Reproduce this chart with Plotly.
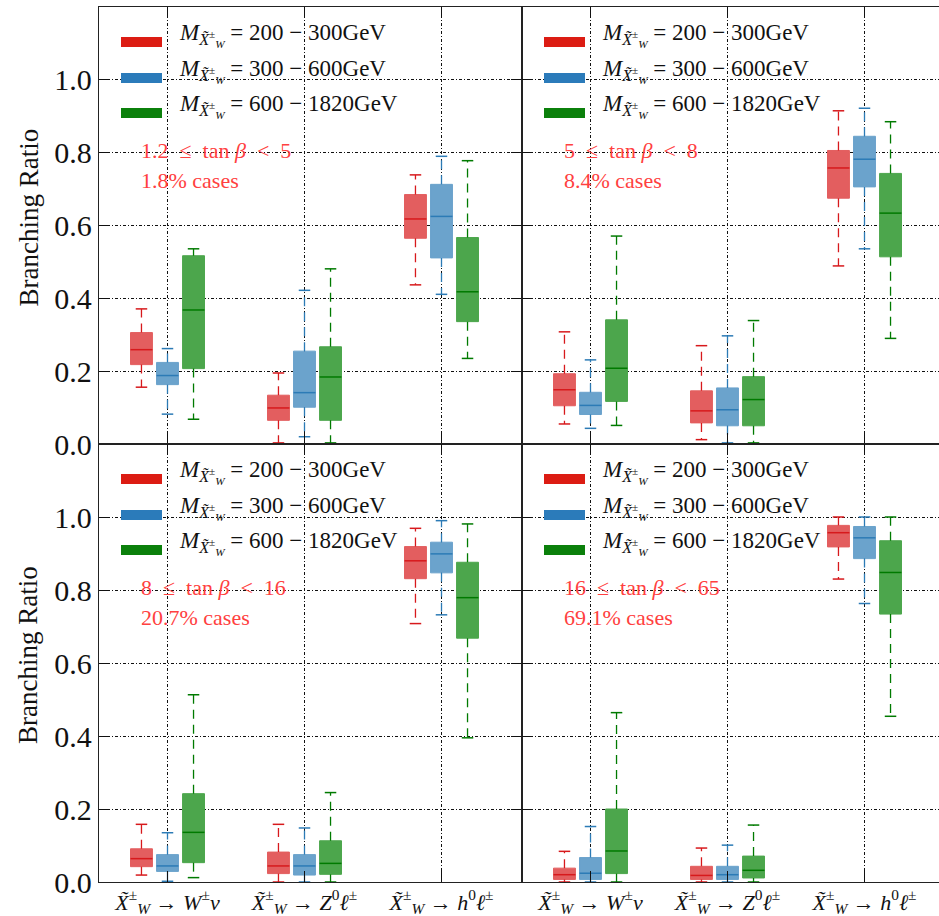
import plotly.graph_objects as go

# ---------------- data ----------------
cat_pos = [1, 2, 3]
cat_labels = [
    "<i>X̃</i><sup>±</sup><sub><i>W</i></sub> → <i>W</i><sup>±</sup><i>ν</i>",
    "<i>X̃</i><sup>±</sup><sub><i>W</i></sub> → <i>Z</i><sup>0</sup><i>ℓ</i><sup>±</sup>",
    "<i>X̃</i><sup>±</sup><sub><i>W</i></sub> → <i>h</i><sup>0</sup><i>ℓ</i><sup>±</sup>",
]
mass_bins = ["200 − 300GeV", "300 − 600GeV", "600 − 1820GeV"]
tanb_ranges = ["1.2 \u00a0≤\u00a0 tan <i>β</i> \u00a0<\u00a0 5", "5 \u00a0≤\u00a0 tan <i>β</i> \u00a0<\u00a0 8",
               "8 \u00a0≤\u00a0 tan <i>β</i> \u00a0<\u00a0 16", "16 \u00a0≤\u00a0 tan <i>β</i> \u00a0<\u00a0 65"]
case_frac = ["1.8% cases", "8.4% cases", "20.7% cases", "69.1% cases"]
y_ticks = [0.0, 0.2, 0.4, 0.6, 0.8, 1.0]
y_tick_text = ["0.0", "0.2", "0.4", "0.6", "0.8", "1.0"]

# per category: [whisker low, q1, median, q3, whisker high]
p1_red = [[0.156, 0.218, 0.259, 0.306, 0.371], [0.003, 0.065, 0.099, 0.134, 0.195], [0.437, 0.565, 0.618, 0.685, 0.739]]
p1_blue = [[0.082, 0.163, 0.188, 0.224, 0.262], [0.020, 0.101, 0.141, 0.255, 0.422], [0.411, 0.511, 0.625, 0.713, 0.790]]
p1_green = [[0.068, 0.207, 0.368, 0.517, 0.536], [0.003, 0.065, 0.184, 0.267, 0.481], [0.235, 0.336, 0.418, 0.567, 0.778]]

p2_red = [[0.055, 0.105, 0.149, 0.193, 0.308], [0.012, 0.058, 0.091, 0.146, 0.270], [0.489, 0.675, 0.758, 0.806, 0.915]]
p2_blue = [[0.043, 0.081, 0.106, 0.142, 0.231], [0.003, 0.050, 0.094, 0.154, 0.297], [0.536, 0.706, 0.782, 0.845, 0.922]]
p2_green = [[0.051, 0.117, 0.208, 0.341, 0.571], [0.003, 0.050, 0.122, 0.185, 0.339], [0.290, 0.514, 0.634, 0.743, 0.885]]

p3_red = [[0.019, 0.042, 0.064, 0.091, 0.158], [0.000, 0.023, 0.044, 0.082, 0.158], [0.708, 0.831, 0.880, 0.919, 0.969]]
p3_blue = [[0.002, 0.029, 0.044, 0.075, 0.135], [0.000, 0.019, 0.044, 0.075, 0.148], [0.732, 0.847, 0.899, 0.931, 0.990]]
p3_green = [[0.012, 0.053, 0.136, 0.242, 0.513], [0.000, 0.021, 0.051, 0.113, 0.245], [0.395, 0.668, 0.779, 0.876, 0.981]]

p4_red = [[0.000, 0.007, 0.020, 0.038, 0.084], [0.000, 0.007, 0.018, 0.043, 0.093], [0.830, 0.918, 0.957, 0.977, 1.000]]
p4_blue = [[0.000, 0.007, 0.024, 0.067, 0.152], [0.000, 0.007, 0.020, 0.043, 0.101], [0.763, 0.886, 0.943, 0.974, 1.000]]
p4_green = [[0.000, 0.023, 0.085, 0.200, 0.464], [0.000, 0.011, 0.032, 0.071, 0.156], [0.454, 0.734, 0.848, 0.935, 1.000]]

panels = [
    [p1_red, p1_blue, p1_green],
    [p2_red, p2_blue, p2_green],
    [p3_red, p3_blue, p3_green],
    [p4_red, p4_blue, p4_green],
]

# ---------------- style ----------------
W, H = 939, 916
SERIF = "Liberation Serif, Times New Roman, serif"
legend_colors = ["#dc1c13", "#2b7bba", "#0b800b"]
fill_colors = ["#e35e5f", "#6ba3cc", "#4ca64c"]
line_colors = ["#d7191c", "#2c7bb6", "#007a00"]
offsets = [-0.19, 0.0, 0.19]
half_box = 0.08
half_cap = 0.042
grid_dash = "3px,2px,1px,2px"

# panel pixel boxes: (left, right, top, bottom)
panel_px = [(99, 522, 7, 444), (522, 939, 7, 444), (99, 522, 444, 882), (522, 939, 444, 882)]
px_per_unit = 137.0

fig = go.Figure()

for pi, series in enumerate(panels):
    xr = "x" if pi == 0 else f"x{pi + 1}"
    yr = "y" if pi == 0 else f"y{pi + 1}"
    for si, data in enumerate(series):
        bx, by, mx, my, wx, wy, cx, cy = [], [], [], [], [], [], [], []
        for ci, (lo, q1, med, q3, hi) in enumerate(data):
            xc = cat_pos[ci] + offsets[si]
            bx += [xc - half_box, xc + half_box, xc + half_box, xc - half_box, xc - half_box, None]
            by += [q1, q1, q3, q3, q1, None]
            mx += [xc - half_box, xc + half_box, None]
            my += [med, med, None]
            wx += [xc, xc, None, xc, xc, None]
            wy += [q3, hi, None, q1, lo, None]
            cx += [xc - half_cap, xc + half_cap, None, xc - half_cap, xc + half_cap, None]
            cy += [hi, hi, None, lo, lo, None]
        common = dict(xaxis=xr, yaxis=yr, mode="lines", showlegend=False, hoverinfo="skip")
        fig.add_trace(go.Scatter(x=bx, y=by, fill="toself", fillcolor=fill_colors[si],
                                 line=dict(color=fill_colors[si], width=1), **common))
        fig.add_trace(go.Scatter(x=mx, y=my, line=dict(color=line_colors[si], width=1.5), **common))
        fig.add_trace(go.Scatter(x=wx, y=wy, line=dict(color=line_colors[si], width=1.3, dash="9px,6px"), **common))
        fig.add_trace(go.Scatter(x=cx, y=cy, line=dict(color=line_colors[si], width=1.5), **common))

layout = dict(
    width=W, height=H,
    margin=dict(l=0, r=0, t=0, b=0),
    paper_bgcolor="white", plot_bgcolor="white",
    showlegend=False,
)

shapes = []
annotations = []
for pi, (L, R, T, B) in enumerate(panel_px):
    sfx = "" if pi == 0 else str(pi + 1)
    is_left = pi in (0, 2)
    is_bottom = pi in (2, 3)
    width_units = (R - L) / px_per_unit
    layout["xaxis" + sfx] = dict(
        domain=[L / W, R / W], range=[0.5, 0.5 + width_units], anchor="y" + sfx,
        tickmode="array", tickvals=cat_pos, ticktext=cat_labels, automargin=False,
        showticklabels=is_bottom, ticks="inside", ticklen=11, tickwidth=1.2, tickcolor="#111",
        showline=True, linecolor="#222", linewidth=1.3, mirror="ticks",
        showgrid=True, gridcolor="#111", gridwidth=1, griddash=grid_dash,
        zeroline=False, tickfont=dict(family=SERIF, size=22, color="#111"),
    )
    layout["yaxis" + sfx] = dict(
        domain=[1 - B / H, 1 - T / H], range=[0, 1.2], anchor="x" + sfx,
        tickmode="array", tickvals=y_ticks, ticktext=y_tick_text, automargin=False,
        showticklabels=is_left, ticks="inside", ticklen=11, tickwidth=1.2, tickcolor="#111",
        showline=True, linecolor="#222", linewidth=1.3, mirror="ticks" if is_left else False,
        showgrid=True, gridcolor="#111", gridwidth=1, griddash=grid_dash,
        zeroline=False, tickfont=dict(family=SERIF, size=30, color="#111"),
    )
    # legend (patches + labels)
    row_off = [35, 71, 106]
    for k in range(3):
        yc = T + row_off[k]
        shapes.append(dict(type="rect", xref="paper", yref="paper",
                           x0=(L + 22) / W, x1=(L + 63) / W,
                           y0=1 - (yc + 5) / H, y1=1 - (yc - 5) / H,
                           fillcolor=legend_colors[k], line=dict(width=0)))
        annotations.append(dict(
            xref="paper", yref="paper", x=(L + 78) / W, y=1 - (yc - 7) / H,
            xanchor="left", yanchor="middle", showarrow=False,
            text="<i>M</i><sub><i>X̃</i><sup>±</sup><sub><i>W</i></sub></sub> = " + mass_bins[k],
            font=dict(family=SERIF, size=23, color="#111"),
        ))
    annotations.append(dict(
        xref="paper", yref="paper", x=(L + 40) / W, y=1 - (T + 143) / H,
        xanchor="left", yanchor="middle", showarrow=False, text=tanb_ranges[pi],
        font=dict(family=SERIF, size=22, color="#ff4040"),
    ))
    annotations.append(dict(
        xref="paper", yref="paper", x=(L + 40) / W, y=1 - (T + 173) / H,
        xanchor="left", yanchor="middle", showarrow=False, text=case_frac[pi],
        font=dict(family=SERIF, size=22, color="#ff4040"),
    ))
    if is_left:
        annotations.append(dict(
            xref="paper", yref="paper", x=28 / W, y=1 - ((T + B) / 2 - 8) / H,
            xanchor="center", yanchor="middle", showarrow=False, textangle=-90,
            text="Branching Ratio", font=dict(family=SERIF, size=27, color="#111"),
        ))

layout["shapes"] = shapes
layout["annotations"] = annotations
fig.update_layout(**layout)
fig.write_html("out.html")
